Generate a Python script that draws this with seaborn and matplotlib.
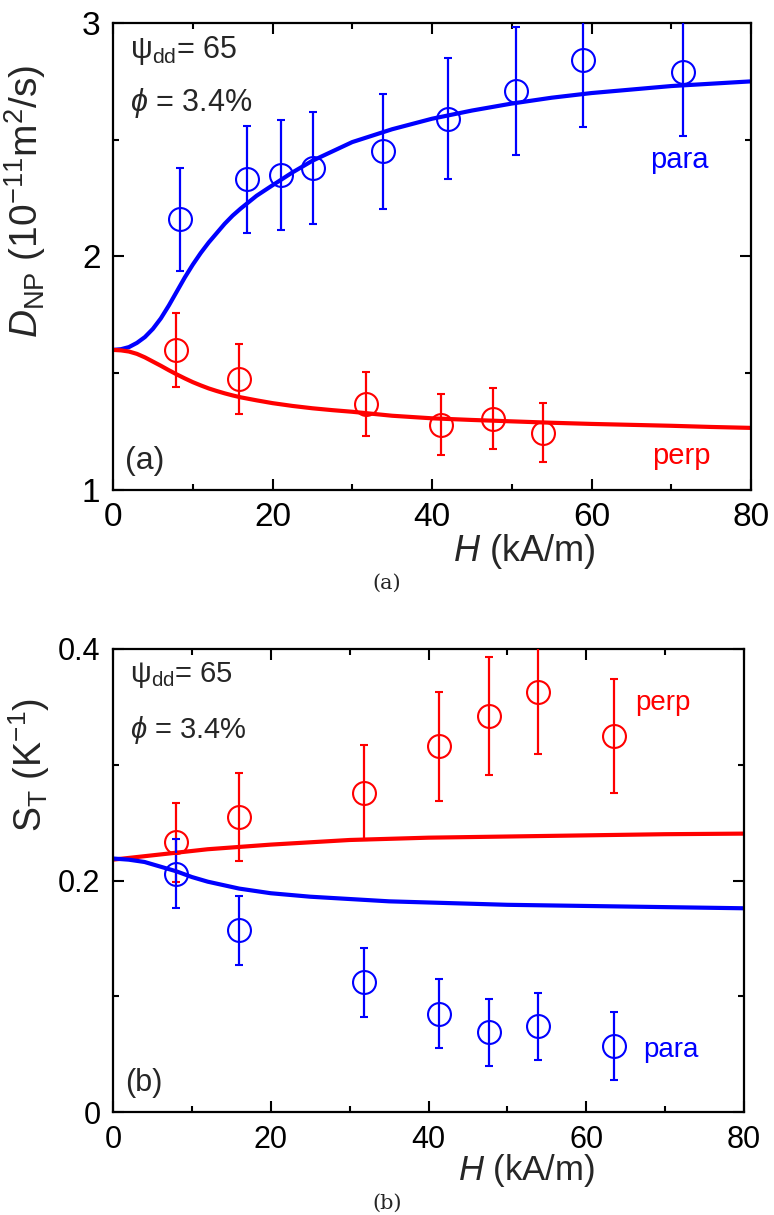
import numpy as np
import pandas as pd
import matplotlib
matplotlib.use('Agg')
import matplotlib.pyplot as plt
import seaborn as sns

# ---- panel (a): diffusion coefficient ----
a_para_H = [8.4, 16.8, 21.1, 25.1, 33.8, 42.0, 50.5, 58.9, 71.5]
a_para_D = [2.16, 2.33, 2.35, 2.38, 2.45, 2.59, 2.71, 2.84, 2.79]
a_para_err = [0.22, 0.23, 0.235, 0.24, 0.245, 0.26, 0.275, 0.285, 0.275]

a_perp_H = [7.9, 15.8, 31.7, 41.1, 47.6, 53.9]
a_perp_D = [1.60, 1.475, 1.37, 1.28, 1.305, 1.245]
a_perp_err = [0.16, 0.15, 0.137, 0.13, 0.13, 0.127]

a_curve_H = [0, 1, 2, 3, 4, 5, 6, 7, 8, 9, 10, 11, 12, 13, 14, 15, 16, 18, 20, 22.5, 25, 27.5,
             30, 35, 40, 45, 50, 55, 60, 65, 70, 75, 80]
a_curve_para = [1.60, 1.603, 1.612, 1.63, 1.655, 1.69, 1.735, 1.79, 1.85, 1.91, 1.965, 2.015,
                2.06, 2.10, 2.14, 2.175, 2.205, 2.26, 2.305, 2.36, 2.41, 2.45, 2.49, 2.545,
                2.59, 2.625, 2.655, 2.68, 2.70, 2.715, 2.73, 2.74, 2.75]
a_curve_perp = [1.60, 1.598, 1.593, 1.583, 1.568, 1.55, 1.532, 1.513, 1.495, 1.478, 1.462, 1.448,
                1.435, 1.424, 1.414, 1.405, 1.397, 1.384, 1.372, 1.36, 1.35, 1.342, 1.335,
                1.318, 1.307, 1.30, 1.294, 1.288, 1.283, 1.279, 1.275, 1.27, 1.266]

# ---- panel (b): Soret coefficient ----
b_H = [8.0, 16.0, 31.8, 41.3, 47.7, 53.9, 63.5]
b_perp_S = [0.233, 0.255, 0.276, 0.316, 0.342, 0.363, 0.325]
b_perp_err = [0.034, 0.038, 0.041, 0.047, 0.051, 0.054, 0.049]
b_para_S = [0.206, 0.157, 0.112, 0.085, 0.069, 0.074, 0.057]
b_para_err = [0.030, 0.030, 0.030, 0.030, 0.029, 0.029, 0.029]

b_curve_H = [0, 2, 4, 6, 8, 10, 12, 14, 16, 18, 20, 25, 30, 35, 40, 50, 60, 70, 80]
b_curve_perp = [0.218, 0.2195, 0.221, 0.2225, 0.224, 0.2255, 0.227, 0.228, 0.229, 0.230, 0.231,
                0.233, 0.235, 0.236, 0.237, 0.238, 0.239, 0.240, 0.2405]
b_curve_para = [0.219, 0.218, 0.216, 0.212, 0.208, 0.203, 0.199, 0.196, 0.193, 0.191, 0.189,
                0.186, 0.184, 0.182, 0.181, 0.179, 0.178, 0.177, 0.176]

sns.set_theme(style='ticks')
plt.rcParams['font.family'] = ['Liberation Sans', 'DejaVu Sans']
plt.rcParams['mathtext.fontset'] = 'custom'
plt.rcParams['mathtext.rm'] = 'Liberation Sans'
plt.rcParams['mathtext.it'] = 'Liberation Sans:italic'
plt.rcParams['mathtext.bf'] = 'Liberation Sans:bold'
plt.rcParams['axes.linewidth'] = 1.6

BLUE = '#0000ff'
RED = '#ff0000'

fig = plt.figure(figsize=(7.74, 12.15), dpi=100)
ax1 = fig.add_axes([113/774, 1-490/1215, (751-113)/774, (490-23)/1215])
ax2 = fig.add_axes([113/774, 1-1112/1215, (744-113)/774, (1112-649)/1215])


def draw_points(ax, x, y, err, color):
    ax.errorbar(x, y, yerr=err, fmt='o', ms=16.5, mfc='none', mec=color, mew=1.5,
                ecolor=color, elinewidth=1.6, capsize=3, capthick=1.6, color=color, zorder=3)


def style_axes(ax, tick_size):
    ax.tick_params(which='both', direction='in', top=True, right=True, width=1.5,
                   labelsize=tick_size, colors='black')
    ax.tick_params(which='major', length=8, pad=9)
    ax.tick_params(which='minor', length=4.5)
    ax.set_xlim(0, 80)
    ax.set_xticks([0, 20, 40, 60, 80])
    ax.set_xticks([10, 30, 50, 70], minor=True)
    for s in ax.spines.values():
        s.set_visible(True)
        s.set_color('black')


# panel (a)
curves_a = pd.DataFrame({'H': a_curve_H, 'para': a_curve_para, 'perp': a_curve_perp})
sns.lineplot(data=curves_a, x='H', y='para', ax=ax1, color=BLUE, lw=3, zorder=2)
sns.lineplot(data=curves_a, x='H', y='perp', ax=ax1, color=RED, lw=3, zorder=2)
draw_points(ax1, a_para_H, a_para_D, a_para_err, BLUE)
draw_points(ax1, a_perp_H, a_perp_D, a_perp_err, RED)
style_axes(ax1, 24)
ax1.set_ylim(1, 3)
ax1.set_yticks([1, 2, 3])
ax1.set_yticks([1.5, 2.5], minor=True)
ax1.set_xlabel(r'$H$ (kA/m)', fontsize=26)
ax1.xaxis.set_label_coords(0.644, -0.132)
ax1.xaxis.label.set_va('center')
ax1.set_ylabel(r'$D_{\rm NP}$ (10$^{-11}$m$^2$/s)', fontsize=28)
ax1.yaxis.set_label_coords(-0.102, 0.618)
ax1.text(17/638, 1-27/466, 'ψ$_{\\rm dd}$= 65', transform=ax1.transAxes, fontsize=22, va='center')
ax1.text(17/638, 1-80/466, r'$\phi$ = 3.4%', transform=ax1.transAxes, fontsize=22, va='center')
ax1.text((650-113)/638, 1-137/466, 'para', transform=ax1.transAxes, fontsize=21, color=BLUE, va='center')
ax1.text((652-113)/638, 1-432/466, 'perp', transform=ax1.transAxes, fontsize=21, color=RED, va='center')
ax1.text(12/638, 1-437/466, '(a)', transform=ax1.transAxes, fontsize=23, va='center')

# panel (b)
curves_b = pd.DataFrame({'H': b_curve_H, 'para': b_curve_para, 'perp': b_curve_perp})
sns.lineplot(data=curves_b, x='H', y='perp', ax=ax2, color=RED, lw=3, zorder=2)
sns.lineplot(data=curves_b, x='H', y='para', ax=ax2, color=BLUE, lw=3, zorder=2)
draw_points(ax2, b_H, b_perp_S, b_perp_err, RED)
draw_points(ax2, b_H, b_para_S, b_para_err, BLUE)
style_axes(ax2, 22)
ax2.set_ylim(0, 0.4)
ax2.set_yticks([0, 0.2, 0.4])
ax2.set_yticklabels(['0', '0.2', '0.4'])
ax2.set_yticks([0.1, 0.3], minor=True)
ax2.set_xlabel(r'$H$ (kA/m)', fontsize=25)
ax2.xaxis.set_label_coords(0.656, -0.127)
ax2.xaxis.label.set_va('center')
ax2.set_ylabel(r'S$_{\rm T}$ (K$^{-1}$)', fontsize=27)
ax2.yaxis.set_label_coords(-0.097, 0.75)
ax2.text(17/631, 1-26/463, 'ψ$_{\\rm dd}$= 65', transform=ax2.transAxes, fontsize=21, va='center')
ax2.text(17/631, 1-81/463, r'$\phi$ = 3.4%', transform=ax2.transAxes, fontsize=21, va='center')
ax2.text((635-113)/631, 1-54/463, 'perp', transform=ax2.transAxes, fontsize=20, color=RED, va='center')
ax2.text((643-113)/631, 1-401/463, 'para', transform=ax2.transAxes, fontsize=20, color=BLUE, va='center')
ax2.text(12/631, 1-434/463, '(b)', transform=ax2.transAxes, fontsize=22, va='center')

fig.text(0.5, 1-583/1215, '(a)', ha='center', va='center', fontsize=15, family='DejaVu Serif')
fig.text(0.5, 1-1203/1215, '(b)', ha='center', va='center', fontsize=15, family='DejaVu Serif')

fig.savefig('out.png', dpi=100)
